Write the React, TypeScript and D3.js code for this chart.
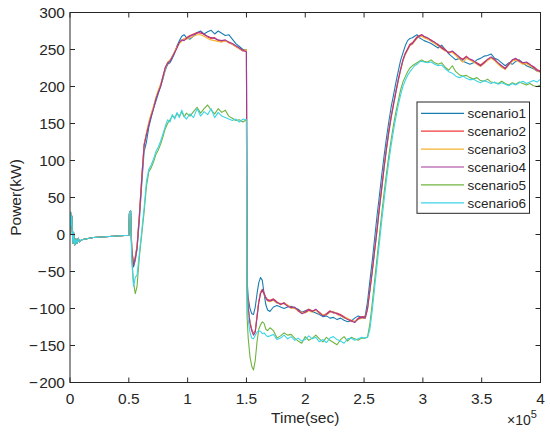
import * as d3 from "d3";

// time axis in units of 1e5 sec
const times = [
  0, 0.005, 0.01, 0.015, 0.02, 0.025, 0.03, 0.04, 0.05, 0.06, 0.07, 0.08, 0.1, 0.13, 0.2, 0.3, 0.4, 0.5,
  0.505, 0.515, 0.525, 0.54, 0.555, 0.57,
  0.59, 0.61, 0.63, 0.65, 0.67, 0.69, 0.71, 0.73, 0.75, 0.77, 0.79, 0.81, 0.83, 0.85, 0.87, 0.89, 0.91, 0.93, 0.95, 0.97, 0.99,
  1.02, 1.05, 1.08, 1.11, 1.14, 1.17, 1.2, 1.23, 1.26, 1.29, 1.32, 1.35, 1.38, 1.41, 1.44, 1.47, 1.5,
  1.505, 1.515, 1.53, 1.545, 1.56, 1.575, 1.59, 1.605, 1.62, 1.635, 1.65, 1.665, 1.68,
  1.7, 1.73, 1.76, 1.79, 1.82, 1.85, 1.88, 1.91, 1.94, 1.97, 2.0, 2.03, 2.06, 2.09, 2.12, 2.15, 2.18, 2.21, 2.24, 2.27,
  2.3, 2.33, 2.36, 2.39, 2.42, 2.45, 2.48,
  2.51, 2.53, 2.55, 2.57, 2.59, 2.61, 2.63, 2.65, 2.67, 2.69, 2.71, 2.73, 2.75, 2.77, 2.79, 2.81, 2.83, 2.85, 2.87, 2.89,
  2.91, 2.93, 2.95, 2.97, 2.99, 3.01,
  3.04, 3.07, 3.1, 3.13, 3.16, 3.19, 3.22, 3.25, 3.28, 3.31, 3.34, 3.37, 3.4, 3.43, 3.46, 3.49, 3.52, 3.55, 3.58, 3.61,
  3.64, 3.67, 3.7, 3.73, 3.76, 3.79, 3.82, 3.85, 3.88, 3.91, 3.94, 3.97, 4.0,
];

const scenario1 = [
  0, 30, 12, 25, 4, -12, 3, -14, -6, -12, -5, -10, -7, -6, -4, -3, -2, -1,
  28, 32, -22, -44, -35, -20,
  20, 68, 112, 125, 145, 158, 170, 180, 190, 200, 210, 222, 230, 232, 238, 245, 255, 262, 268, 270, 266,
  264, 268, 273, 275, 271, 274, 276, 271, 275, 272, 269, 270, 264, 258, 254, 250, 250,
  -60, -85, -100, -107, -108, -98, -80, -65, -58, -62, -80, -95, -102,
  -104, -98, -96, -98, -100, -98, -97, -99, -101, -105, -103, -101, -104, -106, -108, -111, -110, -113, -112, -115,
  -113, -116, -118, -117, -113, -110, -112,
  -110, -90, -62, -35, -5, 25, 52, 80, 106, 130, 152, 172, 188, 205, 220, 235, 245, 255, 262, 265,
  266, 268, 270, 266, 264, 262,
  260, 258, 255, 252, 256, 250, 244, 240, 236, 238, 234, 232, 230, 232, 236, 238, 241, 242, 244, 238,
  236, 232, 228, 232, 230, 234, 236, 232, 228, 226, 224, 221, 220,
];

const scenario2 = [
  0, 30, 12, 25, 4, -12, 3, -14, -6, -12, -5, -10, -7, -6, -4, -3, -2, -1,
  28, 32, -18, -40, -30, -15,
  28, 78, 122, 136, 150, 162, 172, 184, 193, 202, 214, 225, 231, 235, 241, 247, 254, 259, 262, 264, 266,
  269, 271, 273, 272, 271, 267, 265, 266, 262, 261, 262, 259, 257, 254, 251, 248, 248,
  -70, -98, -118, -128, -134, -130, -110, -90, -78, -74, -79, -85, -88,
  -89, -87, -91, -95, -92, -96, -98, -100, -102, -106, -104, -101, -103, -102, -105, -109, -107, -103, -106, -106,
  -108, -111, -114, -116, -118, -113, -111,
  -112, -99, -74, -48, -20, 8, 37, 64, 92, 117, 140, 160, 177, 193, 209, 223, 236, 245, 251, 257,
  259, 263, 267, 269, 270, 267,
  265, 263, 259, 257, 253, 250, 245, 247, 243, 239, 237, 241, 236, 234, 232, 229, 233, 236, 239, 237,
  231, 227, 225, 231, 235, 237, 235, 231, 232, 229, 227, 223, 221,
];

const scenario3 = [
  0, 30, 12, 25, 4, -12, 3, -14, -6, -12, -5, -10, -7, -6, -4, -3, -2, -1,
  28, 32, -19, -41, -31, -16,
  26, 76, 121, 138, 152, 163, 173, 185, 195, 203, 212, 224, 233, 236, 240, 248, 253, 258, 261, 265, 264,
  266, 268, 270, 270, 268, 265, 263, 262, 261, 260, 262, 260, 257, 254, 251, 249, 250,
  -70, -99, -119, -129, -135, -131, -111, -91, -79, -76, -81, -86, -90,
  -91, -89, -93, -93, -94, -95, -100, -99, -104, -105, -106, -103, -105, -102, -107, -108, -109, -105, -104, -108,
  -110, -113, -113, -118, -117, -115, -113,
  -113, -100, -76, -50, -23, 4, 34, 61, 89, 114, 137, 157, 174, 191, 207, 221, 234, 243, 249, 255,
  257, 261, 265, 267, 268, 266,
  264, 261, 258, 255, 251, 248, 247, 246, 242, 237, 233, 238, 236, 233, 230, 227, 231, 235, 238, 235,
  230, 226, 223, 229, 234, 236, 233, 230, 231, 228, 225, 221, 219,
];

const scenario4 = [
  0, 30, 12, 25, 4, -12, 3, -14, -6, -12, -5, -10, -7, -6, -4, -3, -2, -1,
  28, 32, -20, -42, -32, -18,
  25, 75, 120, 135, 148, 160, 170, 183, 192, 200, 213, 226, 232, 234, 240, 246, 252, 260, 263, 262, 265,
  268, 270, 272, 274, 270, 268, 266, 265, 263, 262, 263, 260, 258, 255, 252, 249, 247,
  -70, -100, -120, -130, -136, -132, -112, -92, -80, -75, -80, -86, -89,
  -90, -88, -92, -94, -93, -97, -99, -98, -103, -107, -105, -102, -104, -101, -106, -110, -108, -104, -105, -107,
  -109, -112, -115, -117, -119, -114, -112,
  -113, -100, -75, -50, -22, 5, 35, 62, 90, 115, 138, 158, 175, 192, 208, 222, 235, 244, 250, 256,
  258, 262, 266, 268, 270, 268,
  266, 262, 260, 256, 252, 249, 246, 248, 244, 240, 236, 240, 237, 235, 231, 228, 232, 237, 240, 236,
  232, 228, 224, 230, 236, 238, 234, 232, 233, 230, 226, 222, 220,
];

const scenario5 = [
  0, 30, 12, 25, 4, -12, 3, -14, -6, -12, -5, -10, -7, -6, -4, -3, -2, -1,
  28, 32, -30, -65, -80, -70,
  -30, 0, 30, 65, 85, 90, 98, 108, 114, 122, 132, 143, 150, 155, 160, 158, 163, 160, 166, 159, 164,
  160, 166, 172, 164, 170, 175, 168, 163, 170, 165, 168, 160, 157, 154, 155, 152, 155,
  -110, -140, -165, -178, -183, -170, -145, -128, -122, -118, -120, -128, -130,
  -126, -130, -140, -137, -133, -136, -135, -140, -144, -147, -138, -143, -140, -136, -141, -145, -139, -143, -146, -149,
  -142, -138, -144, -139, -141, -143, -140,
  -140, -138, -120, -92, -62, -32, -2, 28, 56, 82, 106, 128, 148, 165, 180, 195, 206, 213, 220, 225,
  228, 230, 232, 234, 236, 234,
  233, 236, 232, 230, 232, 226, 222, 228, 220, 216, 214, 215, 212, 210, 212, 208, 207, 210, 206, 205,
  204, 207, 204, 202, 205, 203, 206, 204, 202, 204, 201, 200, 202,
];

const scenario6 = [
  0, 30, 12, 25, 4, -12, 3, -14, -6, -12, -5, -10, -7, -6, -4, -3, -2, -1,
  28, 32, -35, -70, -58, -55,
  -25, 5, 36, 72, 88, 94, 102, 112, 118, 126, 136, 146, 155, 152, 162, 156, 165, 158, 168, 160, 156,
  163, 158, 170, 160, 166, 162, 170, 158, 165, 160, 158, 156, 154, 156, 152, 156, 155,
  -90, -115, -132, -140, -141, -136, -132, -130, -131, -134, -133, -136, -138,
  -137, -135, -142, -140, -136, -141, -138, -143, -140, -144, -142, -137, -141, -139, -145, -142, -146, -140, -138, -142,
  -144, -147, -141, -140, -143, -141, -139,
  -140, -139, -128, -102, -72, -42, -12, 18, 46, 73, 98, 120, 140, 158, 174, 188, 200, 208, 215, 220,
  224, 228, 230, 233, 234, 233,
  232, 233, 230, 228, 229, 224, 220, 218, 214, 212, 214, 211, 209, 210, 207, 205, 208, 206, 204, 206,
  203, 205, 203, 201, 204, 202, 205, 207, 204, 206, 208, 206, 210,
];

const seriesNames = ["scenario1", "scenario2", "scenario3", "scenario4", "scenario5", "scenario6"];
const seriesColors = ["#1a7db2", "#ee3d3a", "#f7b12e", "#a2379a", "#6fb33f", "#3ed4ea"];
const seriesValues = [scenario1, scenario2, scenario3, scenario4, scenario5, scenario6];

const xTicks = [0, 0.5, 1, 1.5, 2, 2.5, 3, 3.5, 4];
const yTicks = [-200, -150, -100, -50, 0, 50, 100, 150, 200, 250, 300];

const W = 550, H = 438;
const left = 70, right = 540.5, top = 12.5, bottom = 382.5;
const axisColor = "#262626";
const font = "'Liberation Sans', Arial, sans-serif";

export default function App() {
  const x = d3.scaleLinear().domain([0, 4]).range([left, right]);
  const y = d3.scaleLinear().domain([-200, 300]).range([bottom, top]);

  const line = d3.line<[number, number]>()
    .x(d => x(d[0]))
    .y(d => y(d[1]));

  // matlab-ish minus: a little gap before the digits
  const fmt = (v: number) => (v < 0 ? "\u2212\u200A" + Math.abs(v) : String(v));
  const tick = 5;

  const legX = 417, legY = 102, legW = 112.5, legH = 111.3;
  const rowH = 17.9;

  return (
    <svg width={W} height={H} style={{ position: "absolute", left: 0, top: 0, background: "#fff" }}
      fontFamily={font}>
      <rect x={0} y={0} width={W} height={H} fill="#fff" />
      <defs>
        <clipPath id="plotClip">
          <rect x={left} y={top} width={right - left} height={bottom - top} />
        </clipPath>
      </defs>

      {/* data */}
      <g clipPath="url(#plotClip)">
        {seriesValues.map((vals, i) => {
          const pts: [number, number][] = vals.map((v, j) => [times[j], v] as [number, number])
            .filter(p => p[0] !== undefined);
          return (
            <path key={seriesNames[i]} d={line(pts) || ""} fill="none"
              stroke={seriesColors[i]} strokeWidth={1.1} strokeLinejoin="round" />
          );
        })}
      </g>

      {/* box + ticks */}
      <rect x={left} y={top} width={right - left} height={bottom - top} fill="none"
        stroke={axisColor} strokeWidth={1} />
      {xTicks.map(t => (
        <g key={"xt" + t}>
          <line x1={x(t)} x2={x(t)} y1={bottom} y2={bottom - tick} stroke={axisColor} />
          <line x1={x(t)} x2={x(t)} y1={top} y2={top + tick} stroke={axisColor} />
          <text x={x(t)} y={404} textAnchor="middle" fontSize={15.5} fill={axisColor}>{String(t)}</text>
        </g>
      ))}
      {yTicks.map(t => (
        <g key={"yt" + t}>
          <line x1={left} x2={left + tick} y1={y(t)} y2={y(t)} stroke={axisColor} />
          <line x1={right} x2={right - tick} y1={y(t)} y2={y(t)} stroke={axisColor} />
          <text x={65} y={y(t)} dy="0.36em" textAnchor="end" fontSize={15.5} fill={axisColor}>{fmt(t)}</text>
        </g>
      ))}

      {/* labels */}
      <text x={(left + right) / 2} y={423} textAnchor="middle" fontSize={15.5} fill={axisColor}>Time(sec)</text>
      <text transform={`translate(21,${(top + bottom) / 2}) rotate(-90)`} textAnchor="middle"
        fontSize={15.5} fill={axisColor}>Power(kW)</text>
      <text x={507} y={425} fontSize={14} fill={axisColor}>
        ×10<tspan dy={-7} fontSize={11}>5</tspan>
      </text>

      {/* legend */}
      <rect x={legX} y={legY} width={legW} height={legH} fill="#fff" stroke={axisColor} strokeWidth={1} />
      {seriesNames.map((name, i) => {
        const ly = legY + 11.3 + i * rowH;
        return (
          <g key={"lg" + name}>
            <line x1={421} x2={464} y1={ly} y2={ly} stroke={seriesColors[i]} strokeWidth={1.2} />
            <text x={467.5} y={ly} dy="0.36em" fontSize={13.5} fill={axisColor}>{name}</text>
          </g>
        );
      })}
    </svg>
  );
}
